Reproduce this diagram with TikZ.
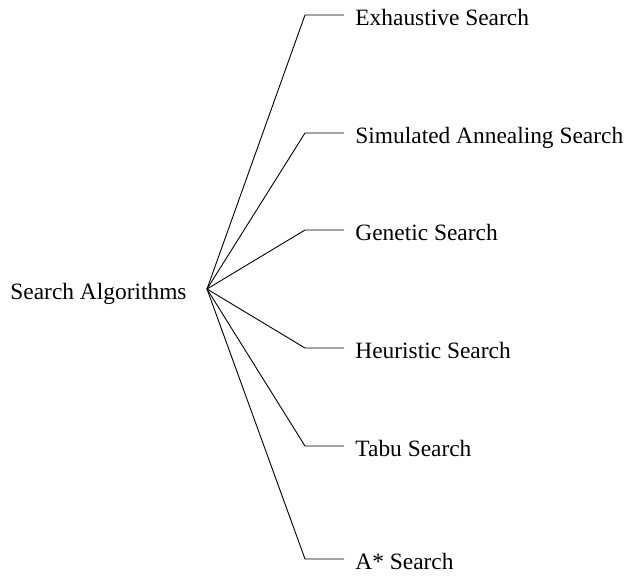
\documentclass[tikz,border=0pt]{standalone}
\usepackage{fontspec}
\setmainfont{Liberation Serif}
\begin{document}
\begin{tikzpicture}[x=1pt, y=-1pt, line width=0.9pt,
  font=\fontsize{23.4}{28}\selectfont,
  root/.style={anchor=east, inner xsep=20pt, inner ysep=0pt, text height=21pt, text depth=0pt},
  leaf/.style={anchor=west, inner xsep=11pt, inner ysep=0pt, text height=21pt, text depth=0pt}]
\useasboundingbox (0,0) rectangle (625,579);
% root
\node[root] (algo) at (207,289) {Search Algorithms};
% leaves
\node[leaf] (exh) at (344,15) {Exhaustive Search};
\node[leaf] (sim) at (344,133) {Simulated Annealing Search};
\node[leaf] (gen) at (344,230) {Genetic Search};
\node[leaf] (heu) at (344,348) {Heuristic Search};
\node[leaf] (tabu) at (344,446) {Tabu Search};
\node[leaf] (astar) at (344,559) {A* Search};
% branches
\draw (algo.east) -- (305,15) -- (exh.west);
\draw (algo.east) -- (305,133) -- (sim.west);
\draw (algo.east) -- (305,230) -- (gen.west);
\draw (algo.east) -- (305,348) -- (heu.west);
\draw (algo.east) -- (305,446) -- (tabu.west);
\draw (algo.east) -- (305,559) -- (astar.west);
\end{tikzpicture}
\end{document}
